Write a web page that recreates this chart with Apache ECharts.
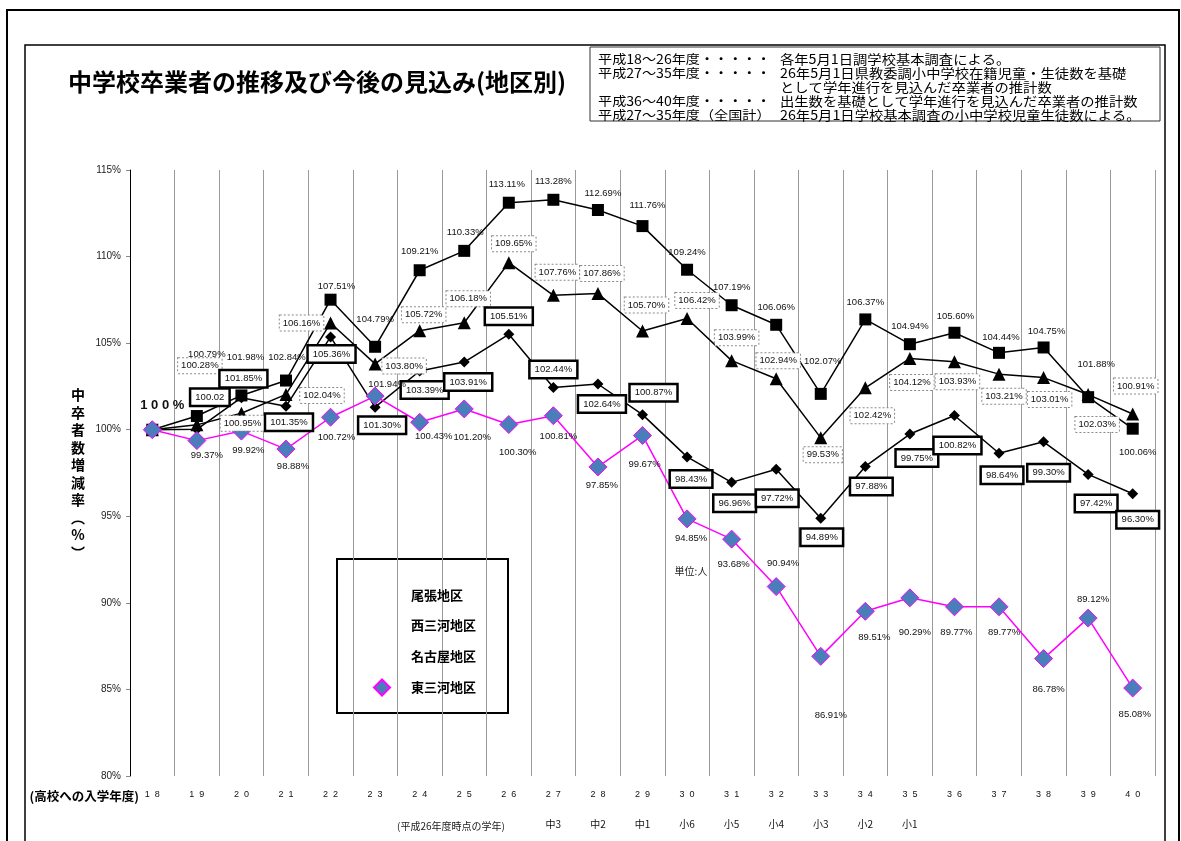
<!DOCTYPE html>
<html>
<head>
<meta charset="utf-8">
<script src="https://cdn.jsdelivr.net/npm/echarts@6/dist/echarts.min.js"></script>
<style>
html,body{margin:0;padding:0;background:#fff;}
#chart{width:1181px;height:841px;}
</style>
</head>
<body>
<div id="chart"></div>
<script>
// ---- data ----
const years = ['18','19','20','21','22','23','24','25','26','27','28','29','30','31','32','33','34','35','36','37','38','39','40'];
const grades = ['','','','','','','','','','中3','中2','中1','小6','小5','小4','小3','小2','小1','','','','',''];
const seriesNames = ['尾張地区','西三河地区','名古屋地区','東三河地区'];
const owari = [100,100.79,101.98,102.84,107.51,104.79,109.21,110.33,113.11,113.28,112.69,111.76,109.24,107.19,106.06,102.07,106.37,104.94,105.60,104.44,104.75,101.88,100.06];
const nishimikawa = [100,100.28,100.95,102.04,106.16,103.80,105.72,106.18,109.65,107.76,107.86,105.70,106.42,103.99,102.94,99.53,102.42,104.12,103.93,103.21,103.01,102.03,100.91];
const nagoya = [100,100.02,101.85,101.35,105.36,101.30,103.39,103.91,105.51,102.44,102.64,100.87,98.43,96.96,97.72,94.89,97.88,99.75,100.82,98.64,99.30,97.42,96.30];
const higashimikawa = [100,99.37,99.92,98.88,100.72,101.94,100.43,101.20,100.30,100.81,97.85,99.67,94.85,93.68,90.94,86.91,89.51,90.29,89.77,89.77,86.78,89.12,85.08];

// ---- label placement (style only) ----
const offOwari = [[10,-24],[10,-62],[4,-38],[1,-23],[6,-13],[0,-27],[0,-19],[1,-18],[-2,-18],[0,-18],[5,-17],[5,-21],[0,-17],[0,-18],[0,-17],[2,-32],[0,-17],[0,-18],[1,-16],[2,-15],[3,-16],[8,-33],[5,24]];
const offNishi = [null,[3,-59],[1,10],[36,1],[-29,0],[29,2],[4,-16],[4,-24],[5,-19],[4,-23],[4,-20],[4,-26],[10,-18],[5,-23],[2,-18],[2,17],[7,28],[2,24],[3,20],[5,22],[6,22],[9,30],[3,-28]];
const offNagoya = [null,[13,-32],[2,-19],[3,16],[1,17],[7,18],[5,19],[4,20],[0,-18],[0,-18],[4,20],[11,-22],[4,22],[3,21],[1,29],[1,19],[6,20],[7,24],[3,30],[3,22],[5,31],[8,29],[5,26]];
const offHigashi = [null,[10,15],[7,19],[7,17],[6,20],[12,-12],[14,14],[8,28],[9,28],[5,21],[4,18],[2,29],[4,19],[2,25],[7,-23],[10,59],[9,26],[5,35],[2,26],[5,26],[5,31],[5,-19],[2,26]];

const FONT = '"Liberation Sans", Arial, sans-serif';
const JP = '"Noto Sans CJK JP", sans-serif';

function pct(v){ return v.toFixed(2) + '%'; }

function buildData(vals, offs, extra){
  return vals.map((v,i)=>{
    const o = offs[i];
    if(!o) return {value:v, label:{show:false}};
    const item = {value:v, label:{offset:o}};
    if(extra && extra[i]) Object.assign(item.label, extra[i]);
    return item;
  });
}

const baseLabel = {show:true, position:'inside', fontSize:9.5, fontFamily:FONT, color:'#111', formatter:p=>pct(p.value)};

const chart = echarts.init(document.getElementById('chart'), null, {renderer:'canvas'});

const option = {
  backgroundColor:'#fff',
  animation:false,
  grid:{left:130, right:26, top:170, bottom:65, containLabel:false},
  legend:{
    orient:'vertical', left:368, top:582, itemWidth:16, itemHeight:16, itemGap:16,
    textStyle:{fontSize:13, fontWeight:'bold', fontFamily:JP, color:'#000', padding:[0,0,0,16]},
    data:[
      {name:seriesNames[0], icon:'none'},
      {name:seriesNames[1], icon:'none'},
      {name:seriesNames[2], icon:'none'},
      {name:seriesNames[3], icon:'diamond'}
    ]
  },
  xAxis:[
    {type:'category', data:years, boundaryGap:true,
     axisLine:{show:false}, axisTick:{show:false},
     splitLine:{show:true, lineStyle:{color:'#9a9a9a', width:1}},
     axisLabel:{margin:14, fontSize:9, fontFamily:FONT, color:'#111', interval:0,
       formatter:v=>v.split('').join('  ')}},
    {type:'category', data:grades, boundaryGap:true, position:'bottom',
     axisLine:{show:false}, axisTick:{show:false}, splitLine:{show:false},
     axisLabel:{margin:43, fontSize:10, fontFamily:JP, color:'#111', interval:0}}
  ],
  yAxis:{type:'value', min:80, max:115, interval:5,
    axisLine:{show:true, lineStyle:{color:'#000', width:1}},
    axisTick:{show:true, length:4, lineStyle:{color:'#888'}},
    splitLine:{show:false},
    axisLabel:{margin:9, fontSize:10, fontFamily:FONT, color:'#222', formatter:'{value}%'}
  },
  series:[
    {name:seriesNames[0], type:'line', symbol:'rect', symbolSize:12,
     lineStyle:{color:'#000', width:1.5}, itemStyle:{color:'#000'},
     label:Object.assign({}, baseLabel),
     data:buildData(owari, offOwari, {0:{formatter:'1 0 0 %', fontWeight:'bold', fontSize:13}}), z:3},
    {name:seriesNames[1], type:'line', symbol:'triangle', symbolSize:13,
     lineStyle:{color:'#000', width:1.5}, itemStyle:{color:'#000'},
     label:Object.assign({}, baseLabel, {backgroundColor:'#fff', borderColor:'#8a8a8a', borderWidth:1, borderType:[2,2], padding:[3,3,2,3]}),
     data:buildData(nishimikawa, offNishi), z:3},
    {name:seriesNames[2], type:'line', symbol:'diamond', symbolSize:11,
     lineStyle:{color:'#000', width:1.5}, itemStyle:{color:'#000'},
     label:Object.assign({}, baseLabel, {backgroundColor:'#fff', borderColor:'#000', borderWidth:2.5, padding:[3,4,2,4]}),
     data:buildData(nagoya, offNagoya, {1:{formatter:'100.02'}}), z:3},
    {name:seriesNames[3], type:'line', symbol:'diamond', symbolSize:18,
     lineStyle:{color:'#ff00ff', width:1.5}, itemStyle:{color:'#4a7ebb', borderColor:'#ff00ff', borderWidth:1},
     label:Object.assign({}, baseLabel),
     data:buildData(higashimikawa, offHigashi), z:3}
  ],
  graphic:[
    {type:'rect', shape:{x:7, y:10, width:1172, height:860}, style:{fill:'none', stroke:'#000', lineWidth:2}, silent:true},
    {type:'rect', shape:{x:25, y:45, width:1140, height:830}, style:{fill:'none', stroke:'#000', lineWidth:1.5}, silent:true},
    {type:'text', x:68, y:82, style:{text:'中学校卒業者の推移及び今後の見込み(地区別)', font:'bold 24px "Noto Sans CJK JP", sans-serif', fill:'#000', textAlign:'left', textVerticalAlign:'middle'}},
    {type:'rect', shape:{x:590, y:47, width:570, height:74}, style:{fill:'#fff', stroke:'#333', lineWidth:1}},
    {type:'text', x:598, y:52, scaleX:1.13, style:{text:'平成18～26年度・・・・・\n平成27～35年度・・・・・\n\n平成36～40年度・・・・・\n平成27～35年度（全国計）', font:'12.5px "Noto Sans CJK JP", sans-serif', lineHeight:14, fill:'#000', textAlign:'left', textVerticalAlign:'top'}},
    {type:'text', x:780, y:52, scaleX:1.1, style:{text:'各年5月1日調学校基本調査による。\n26年5月1日県教委調小中学校在籍児童・生徒数を基礎\nとして学年進行を見込んだ卒業者の推計数\n出生数を基礎として学年進行を見込んだ卒業者の推計数\n26年5月1日学校基本調査の小中学校児童生徒数による。', font:'13px "Noto Sans CJK JP", sans-serif', lineHeight:14, fill:'#000', textAlign:'left', textVerticalAlign:'top'}},
    {type:'text', x:78, y:386, style:{text:'中\n卒\n者\n数\n増\n減\n率\n︵\n%\n︶', font:'bold 14px "Noto Sans CJK JP", sans-serif', lineHeight:17.5, fill:'#000', textAlign:'center', textVerticalAlign:'top'}},
    {type:'text', x:139, y:796, style:{text:'(高校への入学年度)', font:'bold 12.5px "Noto Sans CJK JP", sans-serif', fill:'#000', textAlign:'right', textVerticalAlign:'middle'}},
    {type:'text', x:451, y:826, style:{text:'(平成26年度時点の学年)', font:'10px "Noto Sans CJK JP", sans-serif', fill:'#222', textAlign:'center', textVerticalAlign:'middle'}},
    {type:'text', x:691, y:571, style:{text:'単位:人', font:'10px "Noto Sans CJK JP", sans-serif', fill:'#222', textAlign:'center', textVerticalAlign:'middle'}},
    {type:'rect', shape:{x:337, y:559, width:171, height:154}, style:{fill:'none', stroke:'#000', lineWidth:2}, silent:true}
  ]
};
chart.setOption(option);
</script>
</body>
</html>
